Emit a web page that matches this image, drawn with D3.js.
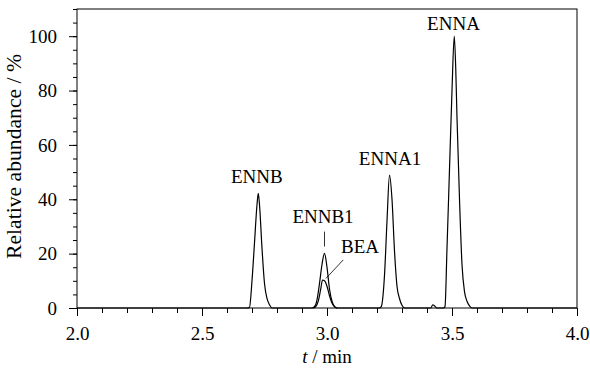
<!DOCTYPE html>
<html>
<head>
<meta charset="utf-8">
<script src="https://d3js.org/d3.v7.min.js"></script>
<style>
  body { margin: 0; background: #fff; }
  text { font-family: "Liberation Serif", "Times New Roman", serif; fill: #000; }
</style>
</head>
<body>
<svg width="590" height="368"></svg>
<script>
// chromatogram traces, [time (min), relative abundance (%)]
var mainTrace = [
  [2.00, 0], [2.68, 0], [2.69, 0.3], [2.70, 10], [2.71, 24], [2.72, 38], [2.725, 42.2], [2.73, 38],
  [2.74, 22], [2.75, 9], [2.76, 3.5], [2.77, 1.2], [2.78, 0],
  [2.94, 0], [2.95, 0.5], [2.96, 3], [2.97, 9], [2.98, 16], [2.99, 20.1], [3.00, 15], [3.01, 7],
  [3.02, 2.5], [3.03, 0.5], [3.04, 0],
  [3.21, 0], [3.217, 0.5], [3.23, 12], [3.24, 32], [3.25, 48.9], [3.26, 40], [3.27, 21], [3.28, 8],
  [3.29, 3.5], [3.30, 1], [3.31, 0],
  [3.415, 0], [3.423, 1.2], [3.43, 0.8], [3.44, 0],
  [3.465, 0], [3.472, 0.5], [3.48, 22], [3.49, 51], [3.50, 80], [3.509, 100], [3.515, 88], [3.52, 70],
  [3.53, 40], [3.54, 16], [3.55, 6], [3.56, 2.5], [3.57, 0.8], [3.58, 0], [4.00, 0]
];
var beaTrace = [
  [2.945, 0], [2.955, 0.5], [2.965, 2.5], [2.975, 7], [2.982, 10.3], [2.99, 10], [3.00, 8],
  [3.01, 4.5], [3.02, 1.8], [3.03, 0.5], [3.04, 0]
];

// peak labels: text, time, value of the label baseline
var labelNames = ['ENNB', 'ENNB1', 'BEA', 'ENNA1', 'ENNA'];
var labelTimes = [2.719, 2.984, 3.132, 3.252, 3.506];
var labelValues = [46, 31.2, 20.2, 52.5, 102.3];

var xTicks = [2.0, 2.5, 3.0, 3.5, 4.0];
var yTicks = [0, 20, 40, 60, 80, 100];

var svg = d3.select('svg');
var pLeft = 77, pRight = 577, pTop = 9, pBottom = 308;

var xs = d3.scaleLinear().domain([2, 4]).range([pLeft, pRight]);
var ys = d3.scaleLinear().domain([0, 110]).range([pBottom, pTop]);

// frame
svg.append('rect')
  .attr('x', pLeft).attr('y', pTop)
  .attr('width', pRight - pLeft).attr('height', pBottom - pTop)
  .attr('fill', 'none').attr('stroke', '#000').attr('stroke-width', 1);

// minor ticks
svg.append('g')
  .attr('transform', 'translate(0,' + pBottom + ')')
  .call(d3.axisBottom(xs).tickValues(d3.range(2, 4.001, 0.1)).tickSize(5).tickFormat(''))
  .call(function(g) { g.select('.domain').remove(); });
svg.append('g')
  .attr('transform', 'translate(' + pLeft + ',0)')
  .call(d3.axisLeft(ys).tickValues(d3.range(0, 110.1, 5)).tickSize(4).tickFormat(''))
  .call(function(g) { g.select('.domain').remove(); });

// major ticks + labels
var xAxis = svg.append('g')
  .attr('transform', 'translate(0,' + pBottom + ')')
  .call(d3.axisBottom(xs).tickValues(xTicks).tickSize(8).tickPadding(11).tickFormat(d3.format('.1f')));
xAxis.select('.domain').remove();
xAxis.selectAll('text').style('font-size', '19px').style('font-family', '"Liberation Serif", serif');

var yAxis = svg.append('g')
  .attr('transform', 'translate(' + pLeft + ',0)')
  .call(d3.axisLeft(ys).tickValues(yTicks).tickSize(8).tickPadding(12));
yAxis.select('.domain').remove();
yAxis.selectAll('text').style('font-size', '19px').style('font-family', '"Liberation Serif", serif');

// traces
var line = d3.line()
  .x(function(d) { return xs(d[0]); })
  .y(function(d) { return ys(d[1]); })
  .curve(d3.curveMonotoneX);

svg.append('path').datum(beaTrace)
  .attr('d', line).attr('fill', 'none').attr('stroke', '#000').attr('stroke-width', 1.2);
svg.append('path').datum(mainTrace)
  .attr('d', line).attr('fill', 'none').attr('stroke', '#000').attr('stroke-width', 1.2);

// labels
svg.selectAll('.peak')
  .data(labelNames)
  .enter()
  .append('text')
    .attr('class', 'peak')
    .attr('x', function(d, i) { return xs(labelTimes[i]); })
    .attr('y', function(d, i) { return ys(labelValues[i]); })
    .attr('text-anchor', 'middle')
    .style('font-size', '19px')
    .text(function(d) { return d; });

// leader lines
svg.append('line')
  .attr('x1', xs(2.99)).attr('x2', xs(2.99))
  .attr('y1', ys(28.1)).attr('y2', ys(22.6))
  .attr('stroke', '#000').attr('stroke-width', 0.8);
svg.append('line')
  .attr('x1', xs(3.065)).attr('x2', xs(2.996))
  .attr('y1', ys(17.7)).attr('y2', ys(10.9))
  .attr('stroke', '#000').attr('stroke-width', 0.8);

// axis titles
svg.append('text')
  .attr('x', (pLeft + pRight) / 2)
  .attr('y', 363)
  .attr('text-anchor', 'middle')
  .style('font-size', '19px')
  .html('<tspan font-style="italic">t</tspan> / min');

svg.append('text')
  .attr('transform', 'translate(21,156.5) rotate(-90)')
  .attr('text-anchor', 'middle')
  .attr('textLength', 205)
  .attr('lengthAdjust', 'spacingAndGlyphs')
  .style('font-size', '20px')
  .text('Relative abundance / %');
</script>
</body>
</html>
